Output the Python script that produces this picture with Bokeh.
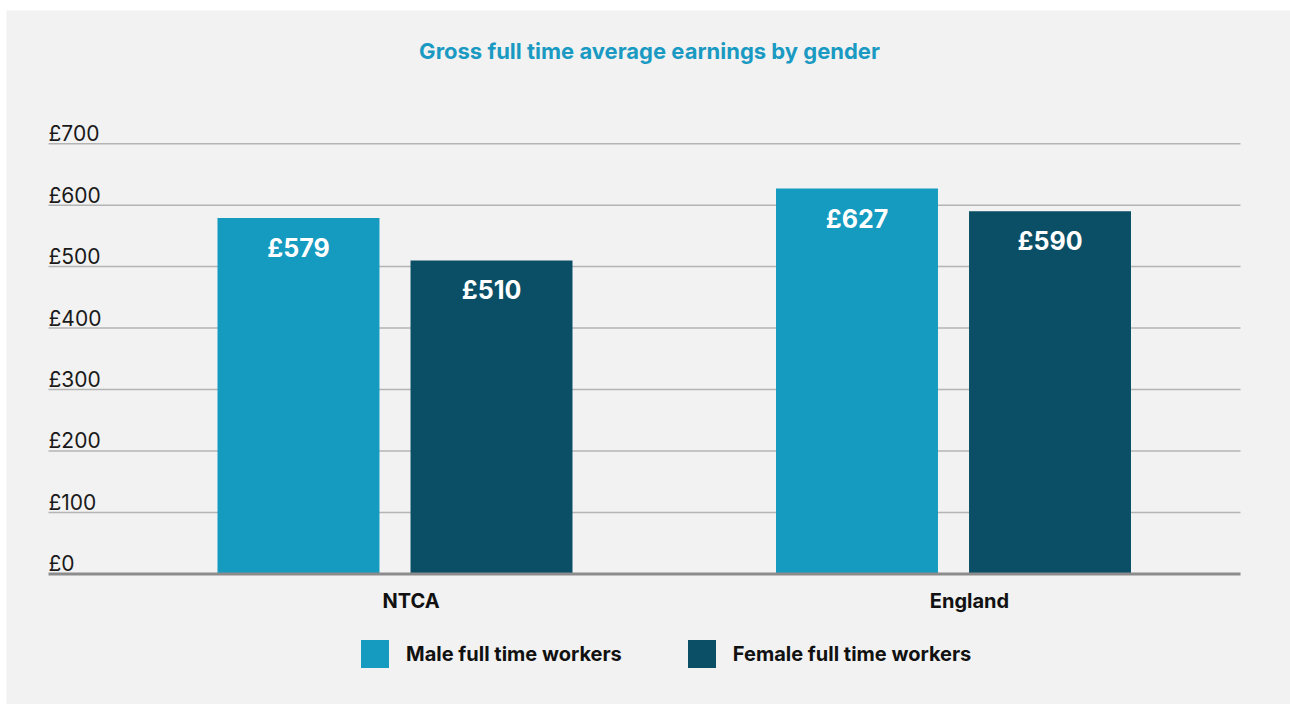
import numpy as np
from bokeh.plotting import figure
from bokeh.models import Range1d, Legend, LegendItem, ColumnDataSource
from bokeh.core.properties import value
from bokeh.embed import file_html
from bokeh.resources import INLINE

# ---- data ----
categories = ["NTCA", "England"]
male = [579, 627]
female = [510, 590]
series_names = ["Male full time workers", "Female full time workers"]
y_ticks = [0, 100, 200, 300, 400, 500, 600, 700]
y_tick_labels = ["£0", "£100", "£200", "£300", "£400", "£500", "£600", "£700"]
title_text = "Gross full time average earnings by gender"

MALE_C = "#159AC0"
FEMALE_C = "#0A4F66"
BG = "#F2F2F2"
FONT = "Inter"

# layout: frame covers the grey panel (page x 6..1290, y 10..704)
x_start, x_end = -0.6956, 1.6034
y_start, y_end = -212.5, 916.7
grid_left, grid_right = -0.6204, 1.5139

p = figure(width=1290, height=704, output_backend="svg", toolbar_location=None,
           x_range=Range1d(x_start, x_end), y_range=Range1d(y_start, y_end),
           min_border_left=6, min_border_right=0, min_border_top=10, min_border_bottom=0)
p.background_fill_color = BG
p.border_fill_color = "white"
p.outline_line_color = None
p.xaxis.visible = False
p.yaxis.visible = False
p.xgrid.visible = False
p.ygrid.visible = False

# gridlines
gt = y_ticks[1:]
p.segment(x0=[grid_left] * len(gt), x1=[grid_right] * len(gt), y0=gt, y1=gt,
          line_color="#B4B4B4", line_width=1.5)

idx = np.arange(len(categories))
offset = 0.1728
bw = 0.29

src = ColumnDataSource(dict(
    xm=idx - offset, xf=idx + offset, male=male, female=female,
    ml=[f"£{v}" for v in male], fl=[f"£{v}" for v in female],
))
rm = p.vbar(x="xm", top="male", width=bw, bottom=0, source=src, fill_color=MALE_C, line_color=None)
rf = p.vbar(x="xf", top="female", width=bw, bottom=0, source=src, fill_color=FEMALE_C, line_color=None)

# zero axis line
p.segment(x0=[grid_left], x1=[grid_right], y0=[y_ticks[0]], y1=[y_ticks[0]],
          line_color="#8C8C8C", line_width=3)

# value labels inside bars
for xcol, lcol, ycol in (("xm", "ml", "male"), ("xf", "fl", "female")):
    p.text(x=xcol, y=ycol, text=lcol, source=src, text_align="center", text_baseline="middle",
           y_offset=30, text_color="white", text_font=value(FONT), text_font_style="bold",
           text_font_size="25px")

# y tick labels (left-aligned, above gridlines)
p.text(x=[grid_left] * len(y_ticks), y=y_ticks, text=y_tick_labels, text_align="left",
       text_baseline="alphabetic", y_offset=-10, text_color="#1A1A1A", text_font=value(FONT),
       text_font_size="21px")

# category labels
p.text(x=idx, y=[0] * len(categories), text=categories, text_align="center", text_baseline="middle",
       x_offset=16, y_offset=27, text_color="#111111", text_font=value(FONT), text_font_style="bold",
       text_font_size="20px")

# title
p.text(x=[0.4557], y=[850.4], text=[title_text], text_align="center",
       text_baseline="middle", text_color="#1A9AC2", text_font=value(FONT), text_font_style="bold",
       text_font_size="22px")

legend = Legend(items=[LegendItem(label=series_names[0], renderers=[rm]),
                       LegendItem(label=series_names[1], renderers=[rf])],
                location=(351, 33), orientation="horizontal",
                glyph_width=35, glyph_height=35, label_height=35, label_standoff=14, spacing=62,
                padding=0, margin=0, border_line_color=None, background_fill_alpha=0,
                label_text_font=FONT, label_text_font_style="bold", label_text_font_size="20px",
                label_text_color="#111111")
p.add_layout(legend, "center")

open("out.html", "w").write(file_html(p, INLINE))
